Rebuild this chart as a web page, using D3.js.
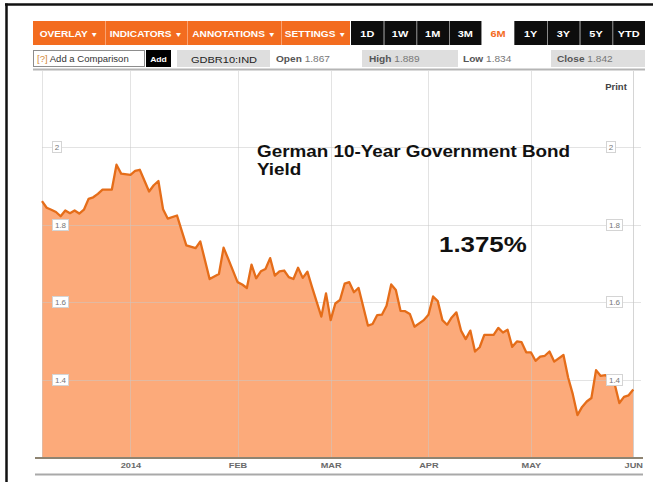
<!DOCTYPE html>
<html>
<head>
<meta charset="utf-8">
<script src="https://cdn.jsdelivr.net/npm/d3@7"></script>
<style>
  html, body { margin: 0; padding: 0; background: #fff; }
  svg { display: block; }
  text { font-family: "Liberation Sans", Arial, sans-serif; }
</style>
</head>
<body>
<svg id="chart" width="653" height="482"></svg>
<script>
// ---- data -------------------------------------------------------------
const dates = [
  "2013-12-05","2013-12-06","2013-12-09","2013-12-10","2013-12-11","2013-12-12","2013-12-13",
  "2013-12-16","2013-12-17","2013-12-18","2013-12-19","2013-12-20","2013-12-23","2013-12-24",
  "2013-12-26","2013-12-27","2013-12-30","2014-01-01","2014-01-02","2014-01-03","2014-01-07",
  "2014-01-08","2014-01-09","2014-01-10","2014-01-13","2014-01-15","2014-01-16","2014-01-17",
  "2014-01-21","2014-01-22","2014-01-24","2014-01-28","2014-01-29","2014-01-30","2014-02-03",
  "2014-02-04","2014-02-05","2014-02-06","2014-02-07","2014-02-10","2014-02-11","2014-02-12",
  "2014-02-13","2014-02-14","2014-02-17","2014-02-18","2014-02-19","2014-02-20","2014-02-21",
  "2014-02-24","2014-02-25","2014-02-27","2014-02-28","2014-03-03","2014-03-04","2014-03-05",
  "2014-03-06","2014-03-07","2014-03-10","2014-03-11","2014-03-13","2014-03-14","2014-03-17",
  "2014-03-18","2014-03-19","2014-03-20","2014-03-21","2014-03-24","2014-03-25","2014-03-26",
  "2014-03-27","2014-03-31","2014-04-01","2014-04-02","2014-04-03","2014-04-04","2014-04-07",
  "2014-04-08","2014-04-09","2014-04-10","2014-04-11","2014-04-14","2014-04-15","2014-04-16",
  "2014-04-17","2014-04-21","2014-04-22","2014-04-23","2014-04-24","2014-04-25","2014-04-28",
  "2014-04-29","2014-04-30","2014-05-01","2014-05-02","2014-05-05","2014-05-06","2014-05-07",
  "2014-05-08","2014-05-12","2014-05-13","2014-05-14","2014-05-15","2014-05-16","2014-05-19",
  "2014-05-20","2014-05-21","2014-05-22","2014-05-23","2014-05-26","2014-05-27","2014-05-28",
  "2014-05-29","2014-05-30","2014-06-02"
];
const yields = [
  1.861,1.844,1.839,1.833,1.822,1.837,1.830,
  1.837,1.829,1.839,1.867,1.871,1.880,1.891,
  1.891,1.955,1.932,1.929,1.939,1.942,1.886,
  1.902,1.913,1.840,1.816,1.824,1.785,1.747,
  1.740,1.757,1.660,1.673,1.741,1.712,1.652,
  1.646,1.637,1.697,1.662,1.680,1.686,1.714,
  1.669,1.680,1.682,1.665,1.660,1.689,1.663,
  1.679,1.639,1.563,1.623,1.554,1.597,1.606,
  1.648,1.652,1.626,1.637,1.540,1.544,1.567,
  1.568,1.591,1.646,1.632,1.578,1.577,1.570,
  1.537,1.554,1.568,1.615,1.603,1.554,1.542,
  1.561,1.574,1.527,1.505,1.527,1.473,1.484,
  1.516,1.516,1.534,1.522,1.529,1.485,1.499,
  1.497,1.471,1.471,1.449,1.460,1.462,1.473,
  1.447,1.464,1.406,1.363,1.309,1.330,1.344,
  1.353,1.425,1.410,1.412,1.403,1.389,1.340,
  1.356,1.360,1.375
];
const monthTickDates = ["2014-01-01","2014-02-03","2014-03-03","2014-04-01","2014-05-01","2014-06-02"];
const monthLabels = ["2014","FEB","MAR","APR","MAY","JUN"];
const yTicks = [1.4, 1.6, 1.8, 2.0];

const menuLabels = ["OVERLAY","INDICATORS","ANNOTATIONS","SETTINGS"];
const rangeLabels = ["1D","1W","1M","3M","6M","1Y","3Y","5Y","YTD"];
const activeRange = "6M";
const ticker = "GDBR10:IND";
const quoteLabels = ["Open","High","Low","Close"];
const quoteValues = ["1.867","1.889","1.834","1.842"];
const titleLines = ["German 10-Year Government Bond","Yield"];

// ---- setup ------------------------------------------------------------
const svg = d3.select("#chart");
const SX = 1.15;               // horizontal text stretch used across the page
const ORANGE = "#f36c1f";
const parse = d3.timeParse("%Y-%m-%d");

// trading-day calendar (weekdays) spanning the series
const first = parse(dates[0]), last = parse(dates[dates.length - 1]);
const weekdays = d3.timeDay.range(first, d3.timeDay.offset(last, 1))
  .filter(d => d.getDay() !== 0 && d.getDay() !== 6);
const dayIndex = new Map(weekdays.map((d, i) => [+d, i]));
const idx = s => dayIndex.get(+parse(s));

const series = dates.map((d, i) => ({ i: idx(d), v: yields[i] }));

const plot = { left: 42, right: 633.3, top: 70, bottom: 457.3 };
const x = d3.scaleLinear().domain([0, weekdays.length - 1]).range([plot.left, plot.right]);
const y = d3.scaleLinear().domain([1.2, 2.0]).range([plot.bottom, 147.3]);

function label(g, px, py, s, o = {}) {
  return g.append("text")
    .attr("transform", `translate(${px},${py}) scale(${SX},1)`)
    .attr("text-anchor", o.anchor || "start")
    .attr("font-size", o.size || 9)
    .attr("font-weight", o.weight || "normal")
    .attr("fill", o.fill || "#333")
    .text(s);
}

// ---- outer frame ------------------------------------------------------
svg.append("line").attr("x1", 5).attr("x2", 653).attr("y1", 4.5).attr("y2", 4.5)
  .attr("stroke", "#111").attr("stroke-width", 2.5);
svg.append("line").attr("x1", 6.5).attr("x2", 6.5).attr("y1", 3.5).attr("y2", 482)
  .attr("stroke", "#111").attr("stroke-width", 2.5);

// ---- toolbar row 1 ----------------------------------------------------
const bar = svg.append("g");
const menuEdges = [33, 105, 187, 281, 350];
menuLabels.forEach((m, k) => {
  const x0 = menuEdges[k], x1 = menuEdges[k + 1];
  bar.append("rect").attr("x", x0).attr("y", 21).attr("width", x1 - x0).attr("height", 24).attr("fill", ORANGE);
  if (k > 0) bar.append("line").attr("x1", x0 + 0.5).attr("x2", x0 + 0.5).attr("y1", 21).attr("y2", 45)
    .attr("stroke", "#f9a272").attr("stroke-width", 1);
  const t = label(bar, (x0 + x1) / 2, 36.5, m + " ", { anchor: "middle", size: 8.8, weight: "bold", fill: "#fff" });
  t.append("tspan").attr("font-size", 7).text("▼");
});
const rx0 = 351, rx1 = 645, rw = (rx1 - rx0) / rangeLabels.length;
rangeLabels.forEach((r, k) => {
  const xs = rx0 + k * rw, active = r === activeRange;
  bar.append("rect").attr("x", xs).attr("y", 21).attr("width", rw).attr("height", 24)
    .attr("fill", active ? "#fff" : "#0d0d0d");
  if (k > 0 && !active && rangeLabels[k - 1] !== activeRange)
    bar.append("line").attr("x1", xs + 0.5).attr("x2", xs + 0.5).attr("y1", 21).attr("y2", 45)
      .attr("stroke", "#8a8a8a").attr("stroke-width", 1);
  label(bar, xs + rw / 2, 37, r, { anchor: "middle", size: 9.5, weight: "bold", fill: active ? ORANGE : "#fff" });
});

// ---- toolbar row 2 ----------------------------------------------------
const row = svg.append("g");
row.append("rect").attr("x", 33.5).attr("y", 50.5).attr("width", 111).attr("height", 16)
  .attr("fill", "#fff").attr("stroke", "#8d8d8d");
const cmp = label(row, 37, 62, "", { size: 8.3, fill: "#333" });
cmp.append("tspan").attr("fill", "#d48a3c").text("[?]");
cmp.append("tspan").text(" Add a Comparison");
row.append("rect").attr("x", 146).attr("y", 50).attr("width", 25).attr("height", 17).attr("fill", "#000");
label(row, 158.5, 62, "Add", { anchor: "middle", size: 7.5, weight: "bold", fill: "#fff" });
row.append("rect").attr("x", 177).attr("y", 50).attr("width", 93).attr("height", 17).attr("fill", "#dedede");
label(row, 224, 62.5, ticker, { anchor: "middle", size: 9.6, fill: "#222" });

const quoteX = [276, 369, 463, 557];
const quoteBox = [null, [362, 458], null, [551, 645]];
quoteLabels.forEach((q, k) => {
  if (quoteBox[k]) row.append("rect").attr("x", quoteBox[k][0]).attr("y", 50)
    .attr("width", quoteBox[k][1] - quoteBox[k][0]).attr("height", 17).attr("fill", "#dedede");
  const t = label(row, quoteX[k], 62, "", { size: 8.8 });
  t.append("tspan").attr("font-weight", "bold").attr("fill", "#555").text(q + " ");
  t.append("tspan").attr("fill", "#777").text(quoteValues[k]);
});
svg.append("line").attr("x1", 33).attr("x2", 645).attr("y1", 69.5).attr("y2", 69.5)
  .attr("stroke", "#b5b5b5").attr("stroke-width", 2);

// ---- area + line ------------------------------------------------------
const area = d3.area().x(d => x(d.i)).y0(plot.bottom).y1(d => y(d.v));
const line = d3.line().x(d => x(d.i)).y(d => y(d.v));

svg.append("path").datum(series).attr("d", area).attr("fill", "#fcaa7a");

// grid drawn faintly over the fill
const grid = svg.append("g").attr("stroke", "#c8c8c8").attr("stroke-opacity", 0.5).attr("stroke-width", 1);
const gridX = [0, ...monthTickDates.map(idx), weekdays.length - 1];
gridX.forEach(i => {
  const gx = Math.round(x(i)) + 0.5;
  grid.append("line").attr("x1", gx).attr("x2", gx).attr("y1", 71).attr("y2", plot.bottom);
});
yTicks.forEach(t => {
  const gy = Math.round(y(t)) + 0.5;
  grid.append("line").attr("x1", plot.left).attr("x2", 641).attr("y1", gy).attr("y2", gy);
});

svg.append("path").datum(series).attr("d", line)
  .attr("fill", "none").attr("stroke", "#e56d19").attr("stroke-width", 2.3).attr("stroke-linejoin", "round");

// ---- y labels (boxed, both sides) ------------------------------------
const fmtY = d3.format("~g");
yTicks.forEach(t => {
  const s = fmtY(t), w = s.length > 1 ? 16 : 9;
  [52.5, 606.5].forEach(bx => {
    svg.append("rect").attr("x", bx).attr("y", Math.round(y(t)) - 5.5).attr("width", w).attr("height", 11)
      .attr("fill", "#fff").attr("stroke", "#d4d4d4").attr("stroke-width", 1);
    label(svg, bx + w / 2, Math.round(y(t)) + 3, s, { anchor: "middle", size: 7, fill: "#777" });
  });
});

// ---- x axis -----------------------------------------------------------
svg.append("line").attr("x1", 35).attr("x2", 643).attr("y1", 458).attr("y2", 458)
  .attr("stroke", "#8e8472").attr("stroke-width", 2);
svg.append("line").attr("x1", 35).attr("x2", 643).attr("y1", 474.5).attr("y2", 474.5)
  .attr("stroke", "#a9a9a9").attr("stroke-width", 2);

const xAxis = d3.axisBottom(x)
  .tickValues(monthTickDates.map(idx))
  .tickFormat((d, k) => monthLabels[k])
  .tickSize(0).tickPadding(4);
const ax = svg.append("g").attr("transform", `translate(0,${plot.bottom + 1})`).call(xAxis);
ax.select(".domain").remove();
ax.selectAll(".tick text")
  .attr("transform", `scale(${SX},1)`)
  .attr("font-family", "\"Liberation Sans\", Arial, sans-serif")
  .attr("font-size", 8).attr("font-weight", "bold").attr("fill", "#6a6a6a");

// ---- annotations ------------------------------------------------------
label(svg, 616, 90, "Print", { anchor: "middle", size: 8.3, weight: "bold", fill: "#444" });
label(svg, 257, 157, titleLines[0], { size: 16.4, weight: "bold", fill: "#111" });
label(svg, 257, 175, titleLines[1], { size: 16.4, weight: "bold", fill: "#111" });
const lastVal = yields[yields.length - 1];
label(svg, 439, 252, d3.format(".3f")(lastVal) + "%", { size: 22.5, weight: "bold", fill: "#111" });
</script>
</body>
</html>
